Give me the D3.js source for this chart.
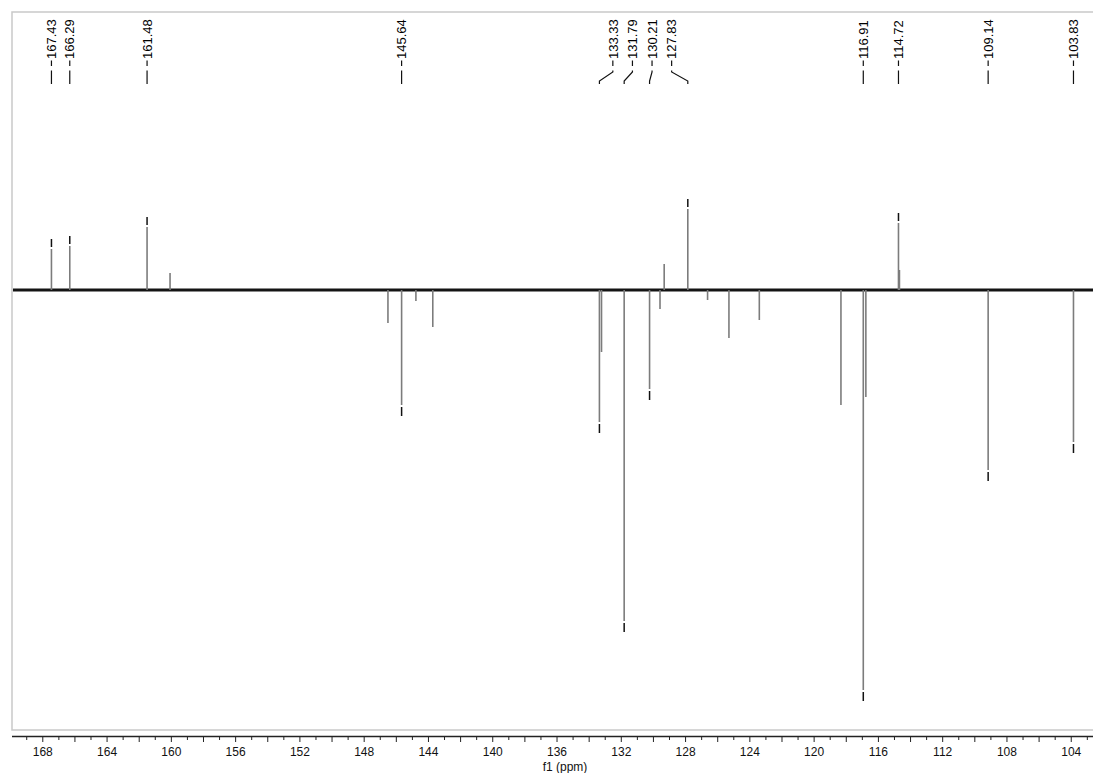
<!DOCTYPE html>
<html><head><meta charset="utf-8">
<script src="https://cdn.jsdelivr.net/npm/d3@7"></script>
<style>body{margin:0;background:#fff}svg{display:block}</style>
</head><body>
<svg id="chart" width="1093" height="773"></svg>
<script>
// ---- data (ppm, signed intensity in arbitrary units) ----
const peakPpm = [167.43, 166.29, 161.48, 160.05, 146.49, 145.64, 144.75, 143.70,
  133.33, 133.20, 131.79, 130.21, 129.56, 129.30, 127.83, 126.60, 125.27, 123.38,
  118.30, 116.91, 116.75, 114.72, 114.66, 109.14, 103.83];
const peakIntensity = [41, 44, 63, 17, -33, -115, -11, -37,
  -132, -62, -331, -99, -19, 26, 81, -10, -48, -30,
  -115, -400, -107, 67, 20, -180, -152];
const labelPpm = [167.43, 166.29, 161.48, 145.64, 133.33, 131.79, 130.21, 127.83,
  116.91, 114.72, 109.14, 103.83];
const labelText = ["167.43", "166.29", "161.48", "145.64", "133.33", "131.79", "130.21", "127.83",
  "116.91", "114.72", "109.14", "103.83"];
const axisTickLabels = [168, 164, 160, 156, 152, 148, 144, 140, 136, 132, 128, 124, 120, 116, 112, 108, 104];
const axisMinorTicks = d3.range(103, 170, 1);
const axisTitle = "f1 (ppm)";

// ---- layout ----
const frame = {left: 12, top: 12, right: 1093, bottom: 730};
const svg = d3.select("#chart");
const x = d3.scaleLinear().domain([169.885, 102.615]).range([frame.left, frame.right]);
const y = d3.scaleLinear().domain([-440, 278]).range([frame.bottom, frame.top]);
const font = "'Liberation Sans', Arial, sans-serif";

// frame
svg.append("rect").attr("x", frame.left).attr("y", frame.top)
  .attr("width", frame.right - frame.left + 10).attr("height", frame.bottom - frame.top)
  .attr("fill", "none").attr("stroke", "#c9c9c9").attr("stroke-width", 1.5);

// baseline (noisy trace rendered as a heavy line)
svg.append("line").attr("x1", frame.left + 1).attr("x2", frame.right)
  .attr("y1", y(0)).attr("y2", y(0))
  .attr("stroke", "#141414").attr("stroke-width", 3);

// peaks
const peaks = peakPpm.map((p, i) => ({ppm: p, v: peakIntensity[i]}));
svg.append("g").selectAll("line").data(peaks).join("line")
  .attr("x1", d => x(d.ppm)).attr("x2", d => x(d.ppm))
  .attr("y1", y(0)).attr("y2", d => y(d.v))
  .attr("stroke", "#7c7c7c").attr("stroke-width", 1.6);

// apex markers for labelled peaks
const labels = labelPpm.map((p, i) => {
  const pk = peaks.find(d => Math.abs(d.ppm - p) < 1e-6);
  return {ppm: p, text: labelText[i], v: pk ? pk.v : 0, px: x(p)};
});
svg.append("g").selectAll("line").data(labels).join("line")
  .attr("x1", d => d.px).attr("x2", d => d.px)
  .attr("y1", d => d.v > 0 ? y(d.v) - 2 : y(d.v) + 2)
  .attr("y2", d => d.v > 0 ? y(d.v) - 10 : y(d.v) + 11)
  .attr("stroke", "#111").attr("stroke-width", 1.5);

// label positions: spread crowded groups
labels.forEach(d => d.lx = d.px);
let groups = [], cur = [labels[0]];
for (let i = 1; i < labels.length; i++) {
  if (labels[i].px - labels[i - 1].px < 42) cur.push(labels[i]);
  else { groups.push(cur); cur = [labels[i]]; }
}
groups.push(cur);
groups.forEach(g => {
  if (g.length >= 3) {
    const m = d3.mean(g, d => d.px) + 2;
    const s = 19.6;
    g.forEach((d, i) => d.lx = m + (i - (g.length - 1) / 2) * s);
  }
});

const lab = svg.append("g");
lab.selectAll("text").data(labels).join("text")
  .attr("transform", d => `translate(${d.lx},59) rotate(-90)`)
  .attr("dy", "0.36em")
  .attr("font-family", font).attr("font-size", 13).attr("fill", "#000")
  .text(d => d.text);
lab.selectAll("path").data(labels).join("path")
  .attr("d", d => `M${d.lx},60.5V66M${d.lx},70.5L${d.lx},72L${d.px},81V84`)
  .attr("fill", "none").attr("stroke", "#111").attr("stroke-width", 1.2);

// axis
const axisY = 736;
const gMinor = svg.append("g").attr("transform", `translate(0,${axisY})`)
  .call(d3.axisBottom(x).tickValues(axisMinorTicks).tickSize(4).tickFormat(""));
gMinor.select(".domain").remove();
gMinor.selectAll(".tick line").attr("stroke", "#222");
gMinor.selectAll(".tick").filter(d => d % 2 === 0).select("line").attr("y2", 6);

const gAxis = svg.append("g").attr("transform", `translate(0,${axisY})`)
  .call(d3.axisBottom(x).tickValues(axisTickLabels).tickSize(0).tickPadding(11).tickFormat(d3.format("d")));
gAxis.select(".domain").attr("d", `M${frame.left},0.5H${frame.right}`).attr("stroke", "#222").attr("stroke-width", 1.3);
gAxis.selectAll("text").attr("font-family", font).attr("font-size", 12).attr("fill", "#111");

svg.append("text").attr("x", 565).attr("y", 771).attr("text-anchor", "middle")
  .attr("font-family", font).attr("font-size", 12).attr("fill", "#111").text(axisTitle);
</script>
</body></html>
